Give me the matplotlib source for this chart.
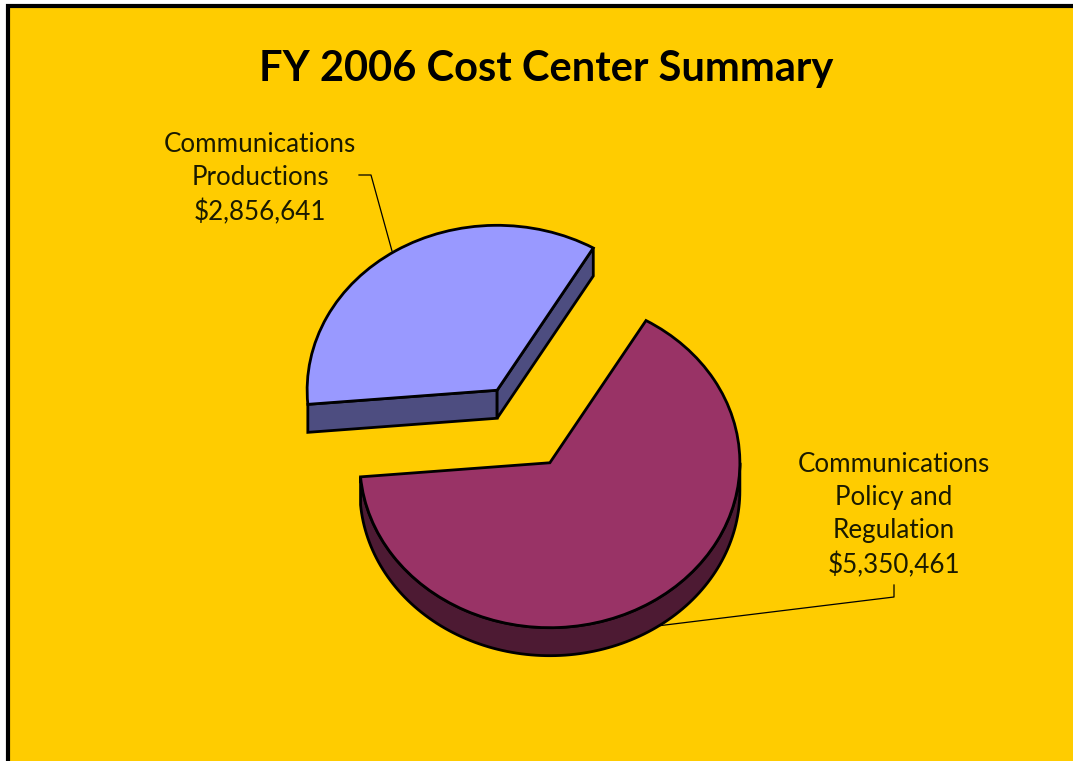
import numpy as np
import matplotlib
matplotlib.use('Agg')
import matplotlib.pyplot as plt
from matplotlib.patches import Rectangle

plt.rcParams['font.family'] = ['Lato', 'DejaVu Sans']

# chart data
title = 'FY 2006 Cost Center Summary'
names = ['Communications\nProductions', 'Communications\nPolicy and\nRegulation']
costs = [2856641, 5350461]
top_colors = ['#9999FF', '#993366']
side_colors = ['#4D4D80', '#4D1A33']

W, H = 1073, 761
squash = 0.868   # tilt of the pie
depth = 28 / squash


def py(v):
    # picture row to data y
    return (H - v) / squash


fig = plt.figure(figsize=(W / 100, H / 100), dpi=100, facecolor='white')
ax = fig.add_axes([0, 0, 1, 1])

# explode is in data units here, not a share of the radius
wedges, _ = ax.pie(costs, colors=top_colors, startangle=59.6, radius=190,
                   center=(523.5, py(426.5)), explode=(49.4, 49.4),
                   wedgeprops={'edgecolor': 'black', 'linewidth': 2, 'joinstyle': 'miter'})
ax.set_aspect('auto')
ax.set_xlim(0, W)
ax.set_ylim(0, H / squash)
ax.set_axis_off()

# background + frame
ax.add_patch(Rectangle((7.5 / W, -0.1), 1.1, 1.1 - 5.5 / H, transform=ax.transAxes,
                       facecolor='#FFCC00', edgecolor='black', linewidth=3, zorder=0))

for w, side in zip(wedges, side_colors):
    w.set_zorder(3)
    cx, cy = w.center
    t1, t2 = np.radians(w.theta1), np.radians(w.theta2)
    rim = lambda a: np.array([cx + 190 * np.cos(a), cy + 190 * np.sin(a)])
    if t2 - t1 < np.pi:
        # radial cut faces show on the smaller slice
        faces = [[rim(t2), (cx, cy)], [(cx, cy), rim(t1)]]
    else:
        # outer rim shows on the larger slice
        arc = np.linspace(t1, 2 * np.pi, 120)
        faces = [[rim(a) for a in arc]]
    for f in faces:
        f = np.array(f, dtype=float)
        low = f[::-1] - [0, depth]
        poly = np.vstack([f, low])
        ax.fill(poly[:, 0], poly[:, 1], facecolor=side, edgecolor='black',
                linewidth=2, joinstyle='miter', zorder=2)

# leader lines
ax.plot([359, 371, 392], [py(175), py(175), py(251)], color='black', lw=0.9, zorder=1)
ax.plot([894, 894, 657], [py(585), py(597), py(626)], color='black', lw=0.9, zorder=1)

# text
ax.text(546, py(69), title, ha='center', va='center', fontsize=30, fontweight='bold', color='black')
ax.text(260, py(178.5), names[0] + '\n${:,}'.format(costs[0]), ha='center', va='center',
        fontsize=18.7, linespacing=1.41, color='#1a1a00')
ax.text(894, py(515), names[1] + '\n${:,}'.format(costs[1]), ha='center', va='center',
        fontsize=18.7, linespacing=1.41, color='#1a1a00')

fig.savefig('out.png', dpi=100, facecolor='white')
